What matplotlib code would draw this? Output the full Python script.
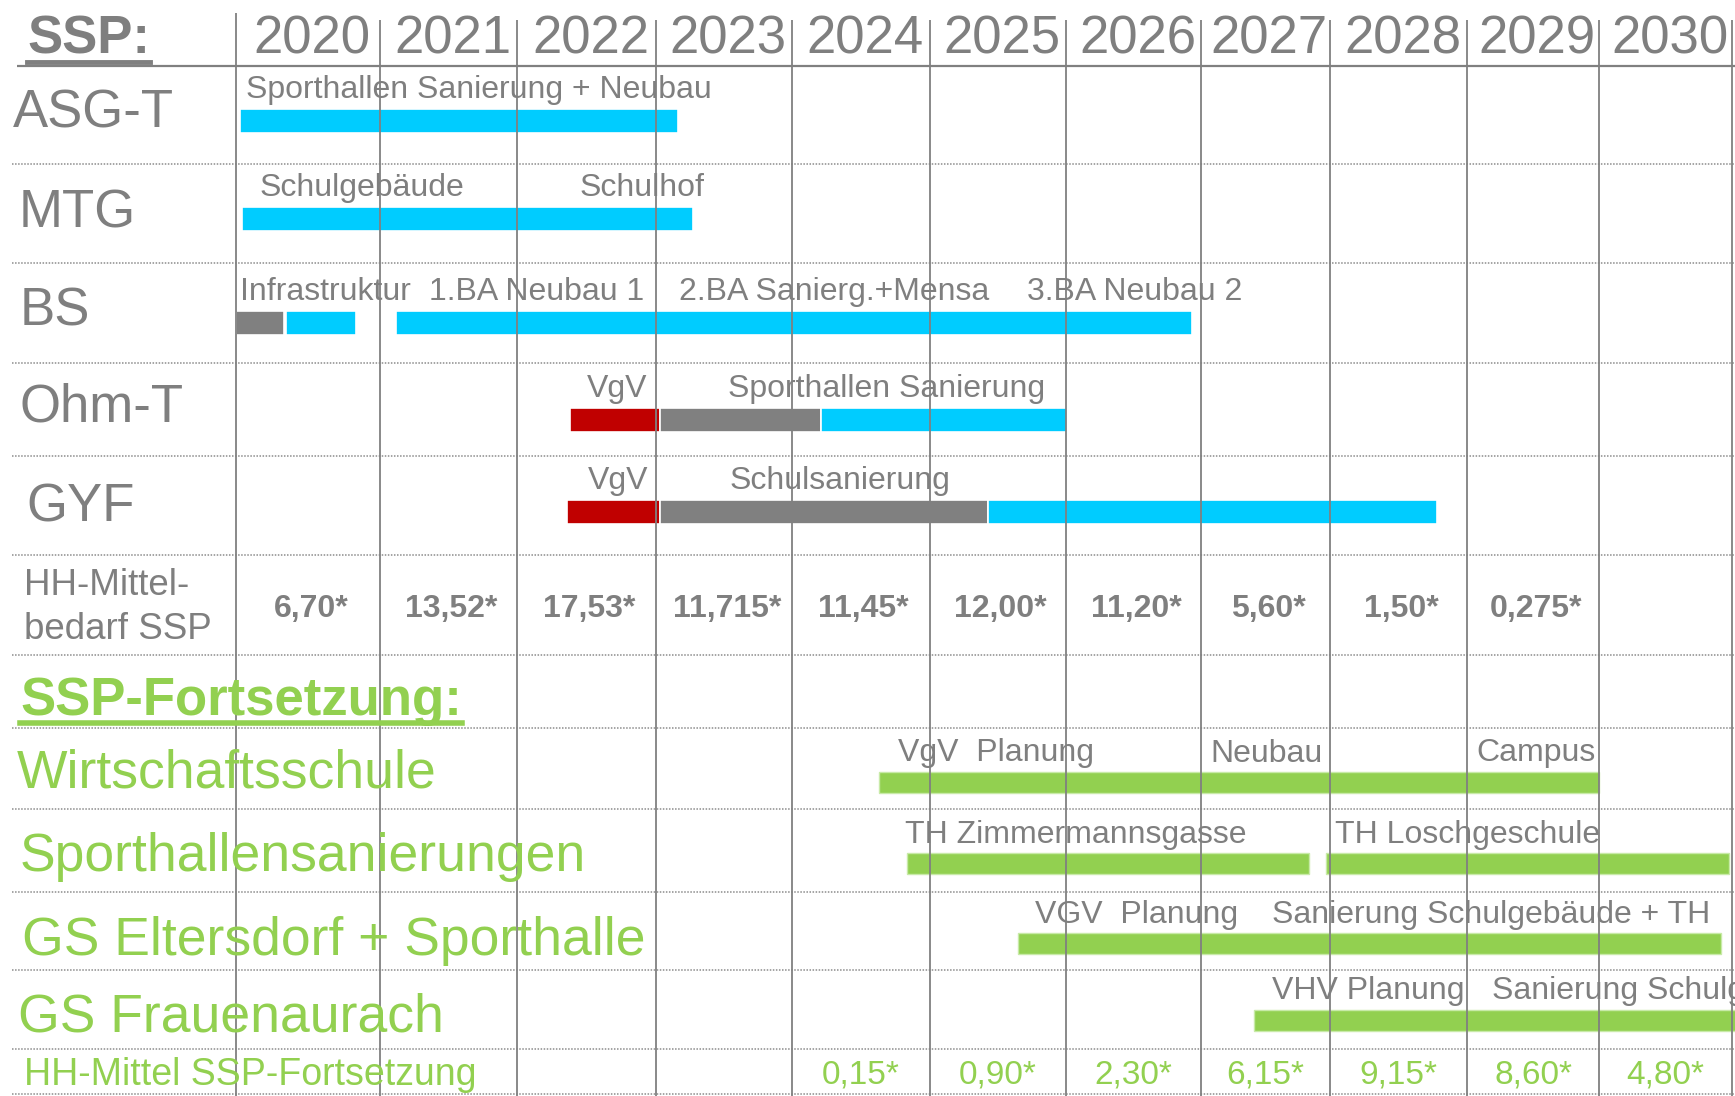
import numpy as np
import matplotlib as mpl
import matplotlib.pyplot as plt
from matplotlib.transforms import IdentityTransform
from matplotlib.lines import Line2D

mpl.rcParams.update({
    "font.family": ["Liberation Sans", "DejaVu Sans"],
})

# --- Data ---
years = list(range(2020, 2031))

ssp_projects = ["ASG-T", "MTG", "BS", "Ohm-T", "GYF"]
# segments: project row, start/end (fractional year), phase
ssp_seg_row = [0, 1, 2, 2, 2, 3, 3, 3, 4, 4, 4]
ssp_seg_start = [2020.03, 2020.04, 2020.00, 2020.35, 2021.12,
                 2022.38, 2023.03, 2024.21, 2022.36, 2023.03, 2025.43]
ssp_seg_end = [2023.16, 2023.27, 2020.33, 2020.83, 2026.93,
               2023.03, 2024.21, 2026.01, 2023.03, 2025.43, 2028.78]
ssp_seg_phase = ["bau", "bau", "plan", "bau", "bau",
                 "vgv", "plan", "bau", "vgv", "plan", "bau"]

ssp_lbl_row = [0, 1, 1, 2, 2, 2, 2, 3, 3, 4, 4]
ssp_lbl_x = [2020.07, 2020.16, 2022.45, 2020.03, 2021.36, 2023.17, 2025.71,
             2022.50, 2023.53, 2022.51, 2023.54]
ssp_lbl_text = ["Sporthallen Sanierung + Neubau", "Schulgebäude", "Schulhof",
                "Infrastruktur", "1.BA Neubau 1", "2.BA Sanierg.+Mensa",
                "3.BA Neubau 2", "VgV", "Sporthallen Sanierung",
                "VgV", "Schulsanierung"]

ssp_budget_years = list(range(2020, 2030))
ssp_budget = [6.70, 13.52, 17.53, 11.715, 11.45, 12.00, 11.20, 5.60, 1.50, 0.275]

fort_projects = ["Wirtschaftsschule", "Sporthallensanierungen",
                 "GS Eltersdorf + Sporthalle", "GS Frauenaurach"]
fort_seg_row = [0, 1, 1, 2, 3]
fort_seg_start = [2024.63, 2024.83, 2027.97, 2025.65, 2027.41]
fort_seg_end = [2030.00, 2027.84, 2030.98, 2030.92, 2031.30]

fort_lbl_row = [0, 0, 0, 1, 1, 2, 2, 3, 3]
fort_lbl_x = [2024.77, 2027.07, 2029.07, 2024.82, 2028.04,
              2025.77, 2027.55, 2027.55, 2029.19]
fort_lbl_text = ["VgV  Planung", "Neubau", "Campus",
                 "TH Zimmermannsgasse", "TH Loschgeschule",
                 "VGV  Planung", "Sanierung Schulgebäude + TH",
                 "VHV Planung", "Sanierung Schulgebäude"]

fort_budget_years = list(range(2024, 2031))
fort_budget = [0.15, 0.90, 2.30, 6.15, 9.15, 8.60, 4.80]

# --- Style / layout (pixels, y grows downward) ---
W, H = 1735, 1096
# column edges of the slide table (year -> pixel), slightly uneven
COL_YEARS = [2018, 2020, 2021, 2022, 2023, 2024, 2025, 2026, 2027, 2028,
             2029, 2030, 2031, 2033]
COL_PX = [-52, 236, 380, 517, 656, 792, 930, 1066, 1201, 1330, 1467, 1599,
          1732, 1998]

TXT = "#7f7f7f"
LINE = "#808080"
GREEN = "#92d050"
PHASE_COL = {"vgv": "#c00000", "plan": "#808080", "bau": "#00ccff"}

SSP_BAR_Y = [121, 219, 323, 420, 512]
SSP_BAR_H = 24
SSP_NAME_X = [13, 19, 20, 19, 26]
SSP_NAME_BASE = [128, 227, 325, 422, 522]
FORT_BAR_Y = [782, 863, 943, 1020]
FORT_BAR_H = 21
FORT_NAME_X = [17, 20, 22, 18]
FORT_NAME_BASE = [788, 871, 955, 1031]
SEP_Y = [164, 263, 363, 456, 555, 655, 728, 809, 892, 970, 1049, 1094]


def fwd(x):
    return np.interp(x, COL_YEARS, COL_PX)


def inv(p):
    return np.interp(p, COL_PX, COL_YEARS)


def fmt(v):
    s = f"{v:.3f}"
    if s.endswith("0"):
        s = s[:-1]
    return s.replace(".", ",") + "*"


fig = plt.figure(figsize=(W / 100, H / 100), dpi=100)
ax = fig.add_axes([0, 0, 1, 1])
ax.set_xscale("function", functions=(fwd, inv))
ax.set_xlim(float(inv(0)), float(inv(W)))
ax.set_ylim(H, 0)
ax.axis("off")


def px(p):
    # pixel column -> year value on the x scale (for left-column texts)
    return float(inv(p))


# bars
for r, s, e, p in zip(ssp_seg_row, ssp_seg_start, ssp_seg_end, ssp_seg_phase):
    ax.barh(SSP_BAR_Y[r], e - s, left=s, height=SSP_BAR_H,
            color=PHASE_COL[p], edgecolor="white", linewidth=1.2, zorder=2)
for r, s, e in zip(fort_seg_row, fort_seg_start, fort_seg_end):
    ax.barh(FORT_BAR_Y[r], e - s, left=s, height=FORT_BAR_H,
            color=GREEN, edgecolor="#c8eaa8", linewidth=1.0, zorder=2)

# grid: year columns and row separators
for i, yr in enumerate(years + [2031]):
    ax.vlines(yr, 13 if i == 0 else 20, H, color=LINE, linewidth=1.3, zorder=3)
ax.hlines(66, px(17), ax.get_xlim()[1], color=LINE, linewidth=1.6, zorder=3)
for y in SEP_Y:
    ax.hlines(y, px(12), ax.get_xlim()[1], color="#8c8c8c",
              linewidth=1.1, linestyles=(0, (1, 1)), zorder=1)

# header
t_ssp = ax.text(px(27), 54, "SSP:", fontsize=38, fontweight="bold",
                color=TXT, va="baseline", ha="left")
for yr in years:
    ax.text(yr + 0.53, 54, str(yr), fontsize=38, color=TXT,
            va="baseline", ha="center", zorder=4)

# SSP rows
for i, name in enumerate(ssp_projects):
    ax.text(px(SSP_NAME_X[i]), SSP_NAME_BASE[i], name, fontsize=38,
            color=TXT, va="baseline", ha="left")
for r, x, t in zip(ssp_lbl_row, ssp_lbl_x, ssp_lbl_text):
    ax.text(x, SSP_BAR_Y[r] - SSP_BAR_H / 2 - 11, t, fontsize=23, color=TXT,
            va="baseline", ha="left", zorder=1)

ax.text(px(24), 595, "HH-Mittel-", fontsize=26.5, color=TXT,
        va="baseline", ha="left")
ax.text(px(24), 639, "bedarf SSP", fontsize=26.5, color=TXT,
        va="baseline", ha="left")
for yr, v in zip(ssp_budget_years, ssp_budget):
    ax.text(yr + 0.52, 617, fmt(v), fontsize=23, fontweight="bold", color=TXT,
            va="baseline", ha="center")

# SSP-Fortsetzung
t_fort = ax.text(px(20), 715, "SSP-Fortsetzung:", fontsize=38,
                 fontweight="bold", color=GREEN, va="baseline", ha="left")
for i, name in enumerate(fort_projects):
    ax.text(px(FORT_NAME_X[i]), FORT_NAME_BASE[i], name, fontsize=38.5,
            color=GREEN, va="baseline", ha="left")
for r, x, t in zip(fort_lbl_row, fort_lbl_x, fort_lbl_text):
    ax.text(x, FORT_BAR_Y[r] - FORT_BAR_H / 2 - 10, t, fontsize=23, color=TXT,
            va="baseline", ha="left", zorder=1)

ax.text(px(24), 1085, "HH-Mittel SSP-Fortsetzung", fontsize=27,
        color=GREEN, va="baseline", ha="left")
for yr, v in zip(fort_budget_years, fort_budget):
    ax.text(yr + 0.5, 1083, fmt(v), fontsize=24, color=GREEN,
            va="baseline", ha="center")

# underlines for the two section titles
fig.canvas.draw()
renderer = fig.canvas.get_renderer()
for t, col, lw in [(t_ssp, TXT, 3.5), (t_fort, GREEN, 4)]:
    bb = t.get_window_extent(renderer)
    fig.add_artist(Line2D([bb.x0, bb.x1], [bb.y0 + 3, bb.y0 + 3], color=col,
                          linewidth=lw, transform=IdentityTransform()))

fig.savefig("out.png", dpi=100)
